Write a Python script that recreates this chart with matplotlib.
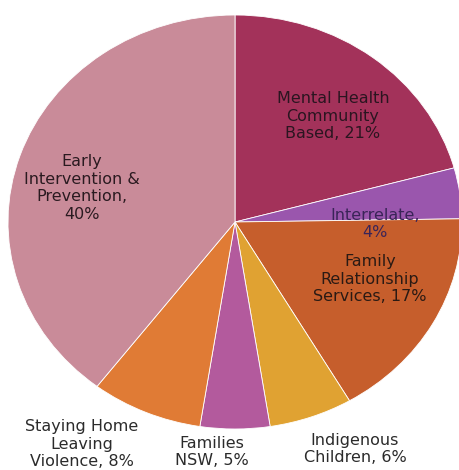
import matplotlib
matplotlib.use('Agg')
import matplotlib.pyplot as plt

# program funding split, clockwise from 12 o'clock
names = [
    'Mental Health\nCommunity\nBased',
    'Interrelate,\n',
    'Family\nRelationship\nServices,',
    'Indigenous\nChildren,',
    'Families\nNSW,',
    'Staying Home\nLeaving\nViolence,',
    'Early\nIntervention &\nPrevention,\n',
]
shares = [21, 4, 17, 6, 5, 8, 40]
colors = ['#a3325a', '#9a56ad', '#c65e2c', '#e0a232', '#b35a9d', '#e07b35', '#c98b99']

# label anchors in pixels of the 459x470 canvas
label_px = [(333, 116), (375, 224), (370, 279), (355, 449), (212, 452), (82, 444), (82, 188)]
text_colors = ['#2a1520', '#3a2458', '#2a1a14', '#2b2b2b', '#2b2b2b', '#2b2b2b', '#2a1a20']

W, H = 459, 470
CX, CY = 235, 222
RX, RY = 227, 207


def to_data(px, py):
    return (px - CX) / RX, (CY - py) / RY


fig = plt.figure(figsize=(W / 100, H / 100), dpi=100)
ax = fig.add_axes([0, 0, 1, 1])

ax.pie(shares, colors=colors, startangle=90, counterclock=False,
       wedgeprops=dict(edgecolor='white', linewidth=0.6))
ax.set_aspect('auto')
ax.set_xlim(-CX / RX, (W - CX) / RX)
ax.set_ylim(-(H - CY) / RY, CY / RY)
ax.axis('off')

for name, share, (px, py), tc in zip(names, shares, label_px, text_colors):
    if name.endswith('\n'):
        text = name + f'{share}%'
    elif name.endswith(','):
        text = name + f' {share}%'
    else:
        text = name + f', {share}%'
    x, y = to_data(px, py)
    ax.text(x, y, text, ha='center', va='center', fontsize=11.5,
            color=tc, linespacing=1.2, clip_on=False)

fig.savefig('out.png', dpi=100)
